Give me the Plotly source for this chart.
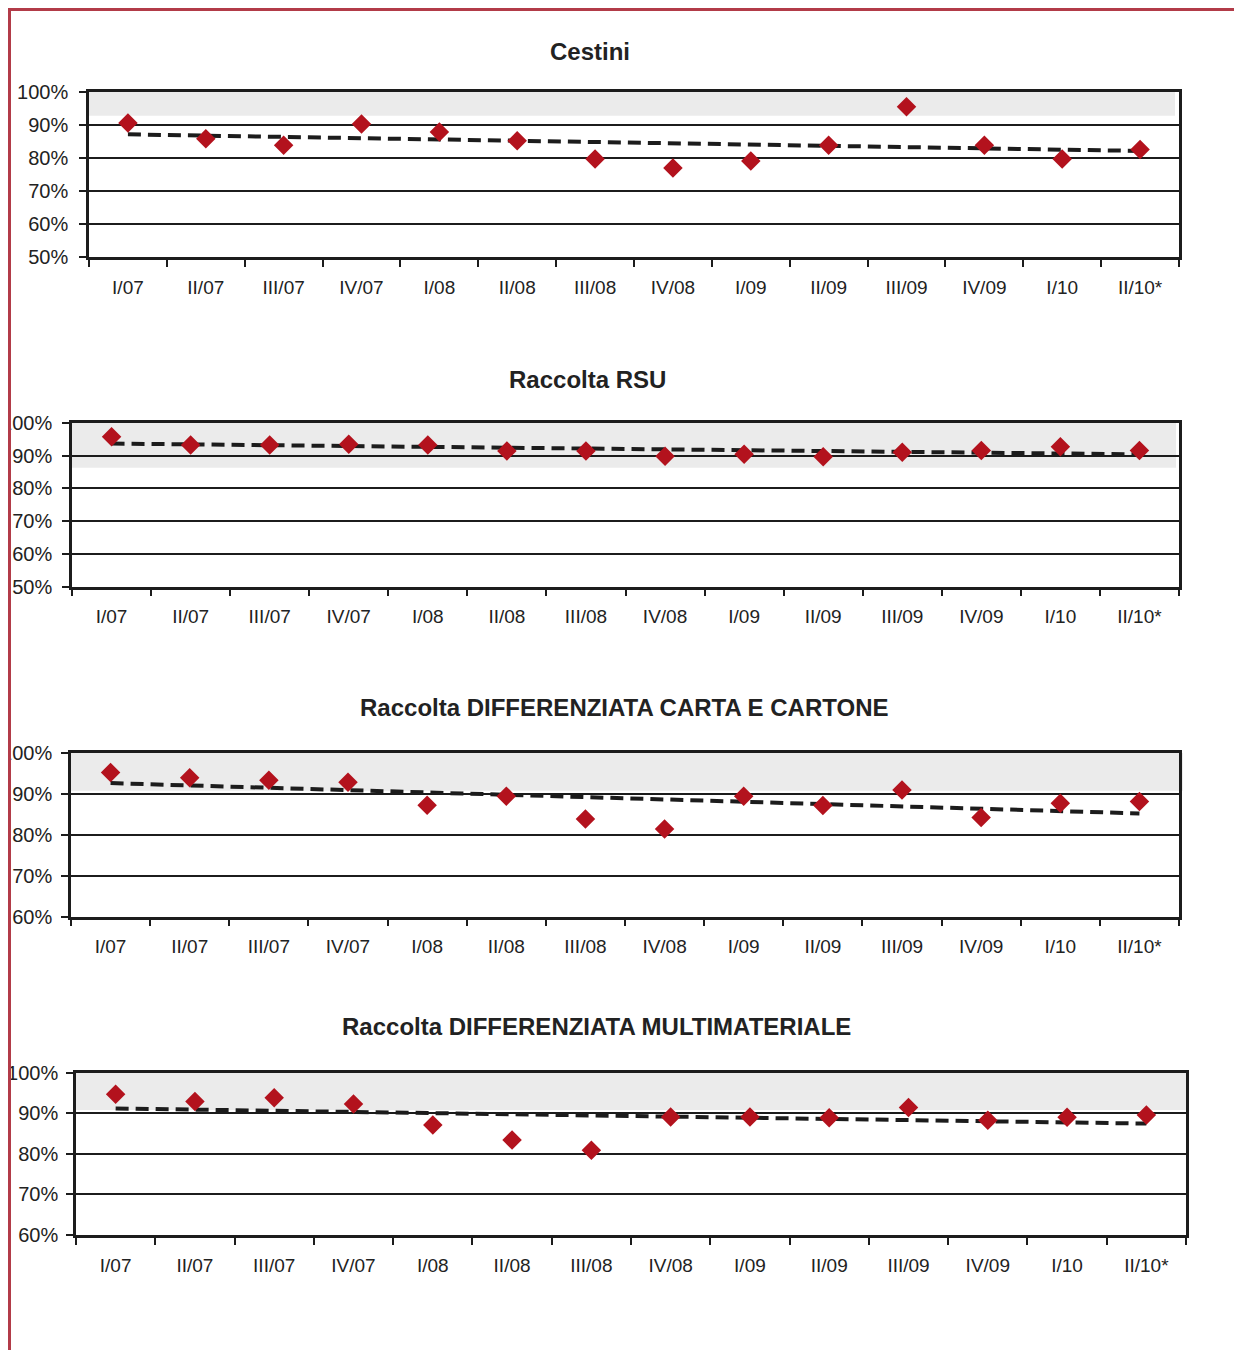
import numpy as np
import plotly.graph_objects as go

W, H = 1234, 1350

periods = ["I/07", "II/07", "III/07", "IV/07", "I/08", "II/08", "III/08",
           "IV/08", "I/09", "II/09", "III/09", "IV/09", "I/10", "II/10*"]

# quarterly satisfaction scores (%)
cestini = [90.6, 85.8, 83.9, 90.3, 87.9, 85.2, 79.7, 77.0, 79.1, 83.9, 95.5, 83.9, 79.7, 82.6]
raccolta_rsu = [95.7, 93.2, 93.2, 93.4, 93.2, 91.4, 91.4, 89.8, 90.4, 89.6, 91.0, 91.5, 92.7, 91.5]
carta_cartone = [95.2, 93.9, 93.3, 92.8, 87.2, 89.4, 83.8, 81.4, 89.4, 87.1, 90.9, 84.2, 87.7, 88.1]
multimateriale = [94.7, 92.9, 93.8, 92.3, 87.1, 83.4, 80.9, 89.1, 89.1, 88.9, 91.4, 88.3, 89.0, 89.6]

titles = ["Cestini", "Raccolta RSU",
          "Raccolta DIFFERENZIATA CARTA E CARTONE",
          "Raccolta DIFFERENZIATA MULTIMATERIALE"]
series = [cestini, raccolta_rsu, carta_cartone, multimateriale]

# lower edge of the grey target band and bottom of each value axis
band_low = [92.8, 86.3, 90.7, 90.8]
axis_min = [50, 50, 60, 60]

# panel geometry in pixels: left, right, top, bottom, title centre x, title y,
# band right edge, y-label standoff
panels = [
    (89, 1179, 92, 257, 590, 52, 1175, 7),
    (72, 1179, 422.7, 586.7, 587, 379, 1176, 6),
    (71, 1179, 752.7, 916.7, 624, 707, 1183, 5),
    (76, 1186, 1072.7, 1235, 596, 1026, 1188, 4),
]

FONT = "Liberation Sans, Arial, sans-serif"
INK = "#1c1c1c"
MARK = "#B3121D"

fig = go.Figure()
shapes = []
annotations = []

for i, (vals, title, lo, ymin, geo) in enumerate(zip(series, titles, band_low, axis_min, panels)):
    left, right, top, bottom, tx, ty, band_right, ystand = geo
    n = "" if i == 0 else str(i + 1)
    xa, ya = "x" + n, "y" + n

    # least-squares linear trend of the series
    idx = np.arange(len(vals))
    slope, icpt = np.polyfit(idx, np.array(vals), 1)
    trend = slope * idx + icpt

    fig.add_trace(go.Scatter(
        x=periods, y=trend, mode="lines", xaxis=xa, yaxis=ya,
        line=dict(color=INK, width=4, dash="13px,7px"),
        hoverinfo="skip", showlegend=False))
    fig.add_trace(go.Scatter(
        x=periods, y=vals, mode="markers", xaxis=xa, yaxis=ya,
        marker=dict(symbol="diamond", size=15, color=MARK,
                    line=dict(width=0)),
        showlegend=False))

    dom_x = [left / W, right / W]
    dom_y = [1 - bottom / H, 1 - top / H]
    fig.layout["xaxis" + n] = dict(
        domain=dom_x, anchor=ya, type="category", range=[-0.5, 13.5],
        tickson="boundaries", ticks="outside", ticklen=7, tickwidth=2,
        tickcolor=INK, showline=True, linewidth=2.5, linecolor=INK,
        mirror=True, showgrid=False, zeroline=False,
        tickfont=dict(family=FONT, size=19, color="#222"),
        ticklabelstandoff=11, fixedrange=True)
    fig.layout["yaxis" + n] = dict(
        domain=dom_y, anchor=xa, range=[ymin, 100], dtick=10,
        ticksuffix="%", ticks="outside", ticklen=7, tickwidth=2,
        tickcolor=INK, showline=True, linewidth=2.5, linecolor=INK,
        mirror=True, showgrid=True, gridcolor=INK, gridwidth=2,
        zeroline=False,
        tickfont=dict(family=FONT, size=20, color="#222"),
        ticklabelstandoff=ystand, fixedrange=True)

    # grey target band
    shapes.append(dict(
        type="rect", layer="below", xref="paper", yref=ya,
        x0=left / W, x1=band_right / W, y0=lo, y1=100,
        fillcolor="#EBEBEB", line=dict(width=0)))

    annotations.append(dict(
        text="<b>" + title + "</b>", xref="paper", yref="paper",
        x=tx / W, y=1 - ty / H, xanchor="center", yanchor="middle",
        showarrow=False, font=dict(family=FONT, size=24, color="#222")))

# page frame: white edge plus the red rule on the top and left
shapes.append(dict(type="rect", layer="above", xref="paper", yref="paper",
                   x0=0, x1=10 / W, y0=0, y1=1,
                   fillcolor="white", line=dict(width=0)))
shapes.append(dict(type="line", layer="above", xref="paper", yref="paper",
                   x0=9.5 / W, x1=9.5 / W, y0=0, y1=1 - 9 / H,
                   line=dict(color="#B23B48", width=3)))
shapes.append(dict(type="line", layer="above", xref="paper", yref="paper",
                   x0=8 / W, x1=1, y0=1 - 9.5 / H, y1=1 - 9.5 / H,
                   line=dict(color="#B23B48", width=3)))

fig.update_layout(
    width=W, height=H, margin=dict(l=0, r=0, t=0, b=0, autoexpand=False),
    paper_bgcolor="white", plot_bgcolor="white",
    shapes=shapes, annotations=annotations, showlegend=False,
    font=dict(family=FONT))

fig.write_html("out.html")
